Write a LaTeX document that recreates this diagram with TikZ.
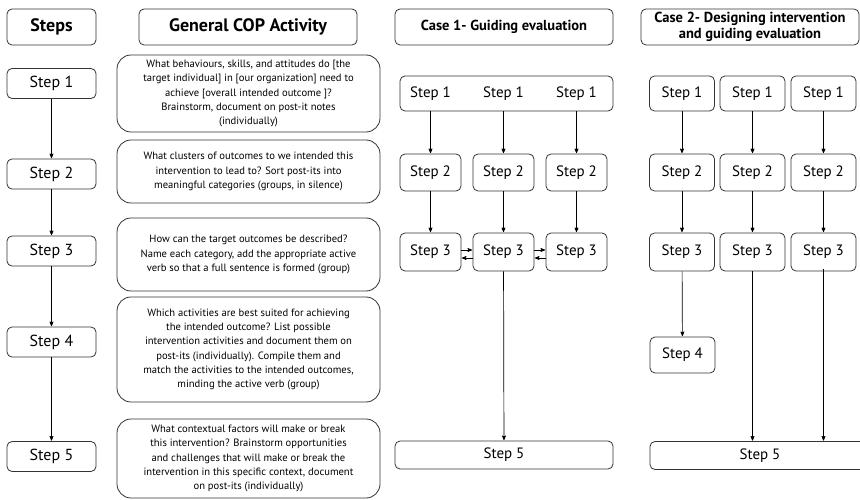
\documentclass[tikz,border=0pt]{standalone}
\usepackage{fontspec}
\setmainfont{PT Sans}
\usetikzlibrary{arrows,positioning}

\tikzset{
  box/.style={draw=black!80, line width=0.8pt, rounded corners=5pt, align=center, inner sep=0pt},
  head/.style={box, minimum height=36pt, font=\bfseries\fontsize{18}{20}\selectfont},
  casehead/.style={box, minimum height=36pt, minimum width=218pt, font=\bfseries\fontsize{14.5}{16.5}\selectfont},
  stepbox/.style={box, minimum width=89pt, minimum height=30pt, font=\fontsize{16}{18}\selectfont},
  actbox/.style={box, rounded corners=14pt, minimum width=263pt, font=\fontsize{10.6}{14.3}\selectfont},
  small/.style={box, minimum height=37pt, font=\fontsize{15}{17}\selectfont},
  link/.style={->, >=stealth', line width=0.7pt, shorten >=0.5pt}
}

\begin{document}
\begin{tikzpicture}[x=1pt, y=-1pt]
  \useasboundingbox (0,0) rectangle (860,500);

  % headers
  \node[head, minimum width=89pt]  (hsteps) at (51.5,27) {Steps};
  \node[head, minimum width=218pt] (hact)   at (248,27)  {General COP Activity};
  \node[casehead] (hcase1) at (504,27) {Case 1- Guiding evaluation};
  \node[casehead] (hcase2) at (750,27) {Case 2- Designing intervention\\and guiding evaluation};

  % steps column
  \node[stepbox] (s1) at (51.5,83.5) {Step 1};
  \node[stepbox] (s2) at (51.5,174)  {Step 2};
  \node[stepbox] (s3) at (51.5,251)  {Step 3};
  \node[stepbox] (s4) at (51.5,342)  {Step 4};
  \node[stepbox] (s5) at (51.5,456.5) {Step 5};
  \foreach \a/\b in {s1/s2, s2/s3, s3/s4, s4/s5}
    \draw[link] (\a) -- (\b);

  % general COP activity
  \node[actbox, minimum height=77pt] (a1) at (248.5,93.5) {What behaviours, skills, and attitudes do [the\\target individual] in [our organization] need to\\achieve [overall intended outcome ]?\\Brainstorm, document on post-it notes\\(individually)};
  \node[actbox, minimum height=63pt] (a2) at (248.5,171.5) {What clusters of outcomes to we intended this\\intervention to lead to? Sort post-its into\\meaningful categories (groups, in silence)};
  \node[actbox, minimum height=73pt] (a3) at (248.5,254.5) {How can the target outcomes be described?\\Name each category, add the appropriate active\\verb so that a full sentence is formed (group)};
  \node[actbox, minimum height=105pt] (a4) at (248.5,349.5) {Which activities are best suited for achieving\\the intended outcome? List possible\\intervention activities and document them on\\post-its (individually). Compile them and\\match the activities to the intended outcomes,\\minding the active verb (group)};
  \node[actbox, minimum height=79pt] (a5) at (248.5,458.5) {What contextual factors will make or break\\this intervention? Brainstorm opportunities\\and challenges that will make or break the\\intervention in this specific context, document\\on post-its (individually)};

  % case 1
  \node[small, minimum width=213pt, minimum height=35pt] (c1top) at (506.5,93.5) {};
  \foreach \n/\x in {a/430.5, b/503.5, c/576.5} {
    \node[font=\fontsize{15}{17}\selectfont] (c1s1\n) at (\x,93.5) {Step 1};
    \node[small, minimum width=61pt] (c1s2\n) at (\x,172.5) {Step 2};
    \node[small, minimum width=61pt, minimum height=38pt] (c1s3\n) at (\x,252) {Step 3};
    \draw[link] (c1s1\n.south |- c1top.south) -- (c1s2\n);
    \draw[link] (c1s2\n) -- (c1s3\n);
  }
  \node[small, minimum width=218pt, minimum height=28pt] (c1s5) at (504,455) {Step 5};
  \draw[link] (c1s3b) -- (c1s5);
  \foreach \l/\r in {a/b, b/c} {
    \draw[link] ([yshift=2pt]c1s3\l.east) -- ([yshift=2pt]c1s3\r.west);
    \draw[link] ([yshift=-6pt]c1s3\r.west) -- ([yshift=-6pt]c1s3\l.east);
  }

  % case 2
  \foreach \n/\x in {a/682, b/752.5, c/823.5} {
    \node[small, minimum width=65pt, minimum height=35pt] (c2s1\n) at (\x,93.5) {Step 1};
    \node[small, minimum width=65pt] (c2s2\n) at (\x,172.5) {Step 2};
    \node[small, minimum width=65pt, minimum height=38pt] (c2s3\n) at (\x,252) {Step 3};
    \draw[link] (c2s1\n) -- (c2s2\n);
    \draw[link] (c2s2\n) -- (c2s3\n);
  }
  \node[small, minimum width=65pt, minimum height=36pt] (c2s4) at (682.5,355) {Step 4};
  \node[small, minimum width=220pt, minimum height=28pt] (c2s5) at (760,455.5) {Step 5};
  \draw[link] (c2s3a) -- (c2s4);
  \draw[link] (c2s3b) -- (c2s3b |- c2s5.north);
  \draw[link] ([yshift=2pt]c2s3c.south) -- (c2s3c |- c2s5.north);
\end{tikzpicture}
\end{document}
